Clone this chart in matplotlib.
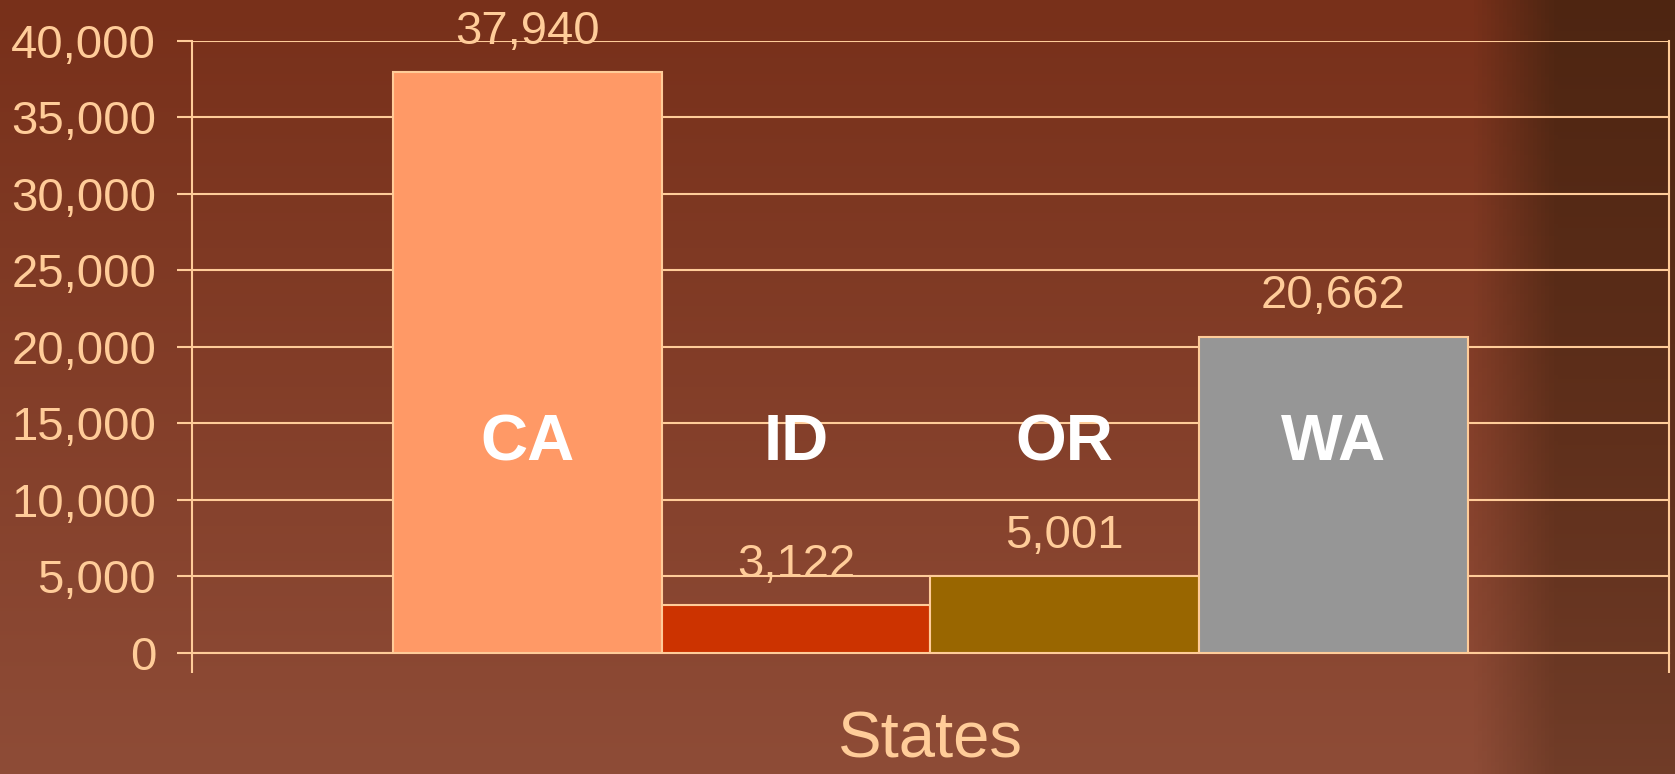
import numpy as np
import matplotlib
matplotlib.use('Agg')
import matplotlib.pyplot as plt
from matplotlib.colors import to_rgb
from matplotlib.ticker import FuncFormatter

plt.rcParams['font.family'] = ['Liberation Sans', 'DejaVu Sans']

# data
states = ['CA', 'ID', 'OR', 'WA']
values = [37940, 3122, 5001, 20662]
bar_colors = ['#FF9966', '#CC3300', '#996600', '#969696']
y_ticks = [0, 5000, 10000, 15000, 20000, 25000, 30000, 35000, 40000]

light = '#FFCC99'

fig = plt.figure(figsize=(16.75, 7.74), dpi=100)

# brown background, darker at the top and towards the top right
bg = fig.add_axes([0, 0, 1, 1], zorder=-10)
h, w = 200, 400
ty = np.linspace(0, 1, h)[:, None]
tx = np.linspace(0, 1, w)[None, :]
top_c = np.array(to_rgb('#78301A'))
bot_c = np.array(to_rgb('#8E4C37'))
dark_c = np.array(to_rgb('#40220F'))
img = top_c * (1 - ty[..., None]) + bot_c * ty[..., None]
img = img * np.ones((h, w, 1))
edge = np.clip((tx - 0.88) / 0.05, 0, 1) * (1 - 0.5 * ty)
edge = (0.75 * edge)[..., None]
img = img * (1 - edge) + dark_c * edge
bg.imshow(img, aspect='auto', extent=[0, 1, 0, 1])
bg.axis('off')

ax = fig.add_axes([0.1146, 0.1563, 0.8818, 0.7911])
ax.patch.set_alpha(0)

x = np.arange(len(states))
ax.bar(x, values, width=1.0, color=bar_colors, edgecolor=light, linewidth=1.5, zorder=3)

for xi, v, s in zip(x, values, states):
    ax.annotate('{:,}'.format(v), (xi, v), xytext=(0, 29), textcoords='offset points',
                ha='center', va='center', color=light, fontsize=34, zorder=5)
    ax.text(xi, 13700, s, ha='center', va='center', color='white',
            fontsize=47, fontweight='bold', zorder=5)

ax.set_xlim(-1.25, 4.25)
ax.set_ylim(0, 40000)
ax.set_yticks(y_ticks)
ax.yaxis.set_major_formatter(FuncFormatter(lambda v, p: '{:,}'.format(int(v))))
ax.grid(axis='y', color=light, linewidth=1.5, zorder=0)
ax.set_axisbelow(True)

ax.set_xticks([-1.25, 4.25])
ax.set_xticklabels([])
ax.tick_params(axis='x', direction='out', length=14.4, width=1.5, color=light)
ax.tick_params(axis='y', direction='out', length=10.8, width=1.5, color=light,
               labelcolor=light, labelsize=34, pad=15)

for side in ['left', 'right', 'bottom']:
    ax.spines[side].set_color(light)
    ax.spines[side].set_linewidth(1.5)
ax.spines['top'].set_visible(False)

fig.text(0.5555, 0.005, 'States', ha='center', va='bottom', color=light, fontsize=47)

fig.savefig('out.png', dpi=100)
